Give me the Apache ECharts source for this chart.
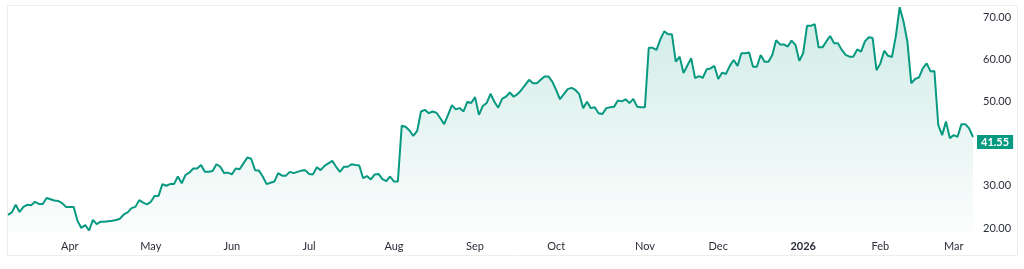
<!DOCTYPE html>
<html>
<head>
<meta charset="utf-8">
<script src="https://cdn.jsdelivr.net/npm/echarts@6/dist/echarts.min.js"></script>
<style>
html,body{margin:0;padding:0;background:#fff;}
#chart{width:1024px;height:269px;}
</style>
</head>
<body>
<div id="chart"></div>
<script>
// Month tick labels (first trading day of each month); first month is partial (no label)
const tickLabels = ['', 'Apr', 'May', 'Jun', 'Jul', 'Aug', 'Sep', 'Oct', 'Nov', 'Dec', '2026', 'Feb', 'Mar'];

// Daily closing values per month (trading days)
const mar25 = [23.1, 23.7, 25.5, 23.8, 25.0, 25.5, 25.4, 26.2, 25.7, 25.7, 27.1, 26.8, 26.5, 26.4, 25.9, 25.0];
const apr25 = [25.0, 25.0, 21.7, 20.0, 20.7, 19.4, 21.9, 20.9, 21.5, 21.5, 21.6, 21.7, 21.9, 22.2, 23.2, 23.7, 24.7, 25.0, 26.6, 26.0, 25.6];
const may25 = [26.2, 27.6, 27.6, 30.4, 30.0, 30.4, 30.4, 32.2, 30.6, 32.6, 33.1, 34.1, 34.1, 34.9, 33.3, 33.3, 33.5, 35.1, 34.5, 33.0, 33.1];
const jun25 = [32.7, 34.1, 33.9, 35.3, 36.7, 36.4, 33.7, 33.6, 32.2, 30.4, 30.7, 31.0, 33.0, 32.4, 32.4, 33.3, 33.0, 33.3, 33.6, 33.7];
const jul25 = [32.8, 32.7, 34.4, 33.7, 34.7, 35.3, 35.9, 34.5, 33.3, 34.5, 34.5, 35.1, 34.9, 34.8, 31.8, 32.3, 31.5, 32.7, 32.8, 31.6, 31.1, 32.2];
const aug25 = [31.0, 31.0, 44.2, 44.0, 43.1, 41.8, 43.0, 47.6, 48.0, 47.2, 47.6, 47.3, 46.0, 44.6, 46.8, 49.1, 48.1, 48.4, 47.6, 49.9, 49.6];
const sep25 = [51.0, 46.8, 48.9, 49.6, 51.8, 49.9, 48.5, 50.6, 51.1, 52.1, 51.1, 51.7, 52.7, 53.9, 55.1, 54.3, 54.3, 55.1, 55.9, 55.9, 54.7];
const oct25 = [52.7, 50.5, 51.7, 52.9, 53.2, 52.7, 51.7, 48.4, 49.9, 48.4, 48.6, 47.2, 47.0, 48.4, 48.6, 48.7, 50.2, 50.0, 50.5, 49.6, 50.6, 48.7, 48.6];
const nov25 = [48.6, 62.7, 62.7, 62.2, 64.7, 66.6, 65.9, 65.9, 59.4, 60.6, 56.7, 58.5, 60.2, 55.5, 56.0, 55.6, 57.6, 57.8, 58.4];
const dec25 = [55.3, 56.8, 56.5, 58.4, 59.8, 58.4, 61.4, 61.4, 61.6, 58.2, 58.2, 61.0, 59.4, 59.4, 61.0, 64.5, 63.5, 63.5, 63.0, 64.4, 63.4, 59.6];
const jan26 = [61.4, 67.9, 67.9, 68.3, 62.8, 62.8, 64.2, 65.5, 63.8, 63.8, 62.2, 61.0, 60.6, 60.6, 62.3, 61.8, 64.2, 65.2, 65.0, 57.4];
const feb26 = [59.0, 62.0, 60.8, 60.5, 65.4, 72.3, 68.9, 64.2, 54.3, 55.3, 55.7, 57.8, 59.0, 57.1, 57.2, 44.4, 42.0, 45.2, 41.3];
const mar26 = [42.0, 41.6, 44.6, 44.6, 43.6, 41.55];

const months = [mar25, apr25, may25, jun25, jul25, aug25, sep25, oct25, nov25, dec25, jan26, feb26, mar26];

const categories = [];
const values = [];
months.forEach((arr, m) => {
  arr.forEach((v, k) => {
    categories.push(m + '|' + k);
    values.push(v);
  });
});

const GREEN = '#089981';
const chart = echarts.init(document.getElementById('chart'));
chart.setOption({
  animation: false,
  textStyle: { fontFamily: 'Lato, "Noto Sans", sans-serif' },
  graphic: [{
    type: 'rect', silent: true, z: -10,
    shape: { x: 7.5, y: 5.5, width: 1010, height: 250 },
    style: { fill: 'none', stroke: '#ededed', lineWidth: 1 }
  }],
  grid: { left: 8, right: 51, top: 4.3, height: 227.9 },
  xAxis: {
    type: 'category',
    data: categories,
    boundaryGap: false,
    axisLine: { show: false },
    axisTick: { show: false },
    splitLine: { show: false },
    axisLabel: {
      interval: function (idx, val) {
        const p = val.split('|');
        return p[1] === '0' && tickLabels[+p[0]] !== '';
      },
      formatter: function (val) {
        const p = val.split('|');
        const t = tickLabels[+p[0]];
        return /^\d+$/.test(t) ? '{b|' + t + '}' : t;
      },
      color: '#2a2e39',
      fontSize: 11,
      margin: 9,
      rich: { b: { fontWeight: 'bold', fontSize: 11, color: '#2a2e39' } }
    }
  },
  yAxis: {
    type: 'value',
    position: 'right',
    min: 19, max: 73, interval: 1,
    axisLine: { show: false },
    axisTick: { show: false },
    splitLine: { show: false },
    axisLabel: {
      formatter: function (v) { return v % 10 === 0 ? v.toFixed(2) : ''; },
      color: '#2a2e39',
      fontSize: 11,
      margin: 10
    }
  },
  series: [{
    type: 'line',
    data: values,
    symbol: 'none',
    lineStyle: { color: GREEN, width: 2 },
    areaStyle: {
      color: new echarts.graphic.LinearGradient(0, 0, 0, 1, [
        { offset: 0, color: 'rgba(8,153,129,0.28)' },
        { offset: 1, color: 'rgba(8,153,129,0.02)' }
      ])
    },
    endLabel: {
      show: true,
      formatter: function (p) { return p.value.toFixed(2); },
      backgroundColor: GREEN,
      color: '#fff',
      fontWeight: 'bold',
      fontSize: 11,
      lineHeight: 12,
      padding: [1, 4],
      distance: 4,
      offset: [0, 5]
    }
  }]
});
</script>
</body>
</html>
